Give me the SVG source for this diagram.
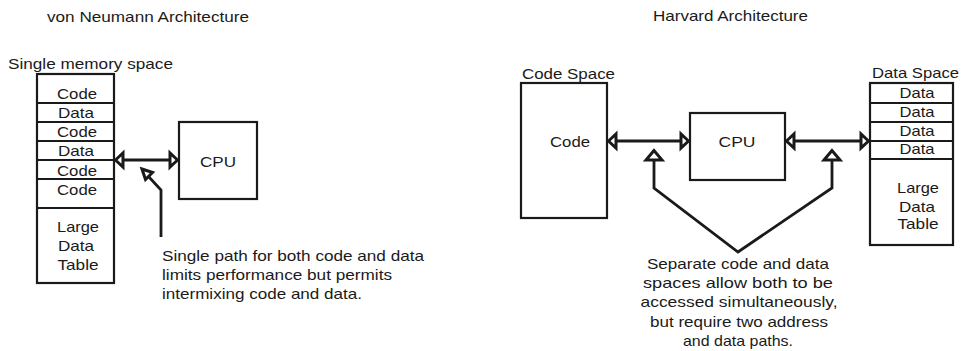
<svg xmlns="http://www.w3.org/2000/svg" width="961" height="351" viewBox="0 0 961 351">
<style>
text{font-family:"Liberation Sans",Arial,sans-serif;font-size:15px;fill:#1a1a1a}
.c{text-anchor:middle}
.box{fill:#fff;stroke:#1a1a1a;stroke-width:2.2}
.sep{stroke:#1a1a1a;stroke-width:2.2}
.ln{fill:none;stroke:#1a1a1a;stroke-width:2.8;stroke-linejoin:miter}
.hd{fill:#fff;stroke:#1a1a1a;stroke-width:3;stroke-linejoin:miter}
</style>
<rect width="961" height="351" fill="#fff"/>
<text x="47" y="22" textLength="202" lengthAdjust="spacingAndGlyphs">von Neumann Architecture</text>
<text x="653" y="21" textLength="155" lengthAdjust="spacingAndGlyphs">Harvard Architecture</text>

<g id="memory">
<text x="8" y="69" textLength="165" lengthAdjust="spacingAndGlyphs">Single memory space</text>
<rect class="box" x="37" y="74" width="77" height="209"/>
<line class="sep" x1="37" y1="103" x2="114" y2="103"/>
<line class="sep" x1="37" y1="122" x2="114" y2="122"/>
<line class="sep" x1="37" y1="141" x2="114" y2="141"/>
<line class="sep" x1="37" y1="160" x2="114" y2="160"/>
<line class="sep" x1="37" y1="179" x2="114" y2="179"/>
<line class="sep" x1="37" y1="208" x2="114" y2="208"/>
<text class="c" x="77" y="99" textLength="40" lengthAdjust="spacingAndGlyphs">Code</text>
<text class="c" x="76" y="118" textLength="36" lengthAdjust="spacingAndGlyphs">Data</text>
<text class="c" x="77" y="137" textLength="40" lengthAdjust="spacingAndGlyphs">Code</text>
<text class="c" x="76" y="156" textLength="36" lengthAdjust="spacingAndGlyphs">Data</text>
<text class="c" x="77" y="176" textLength="40" lengthAdjust="spacingAndGlyphs">Code</text>
<text class="c" x="77" y="195" textLength="40" lengthAdjust="spacingAndGlyphs">Code</text>
<text class="c" x="78" y="232" textLength="42" lengthAdjust="spacingAndGlyphs">Large</text>
<text class="c" x="76" y="251" textLength="36" lengthAdjust="spacingAndGlyphs">Data</text>
<text class="c" x="78" y="270" textLength="41" lengthAdjust="spacingAndGlyphs">Table</text>
</g>

<g id="cpu1">
<rect class="box" x="179" y="122" width="78" height="77"/>
<text class="c" x="218" y="167" textLength="36" lengthAdjust="spacingAndGlyphs">CPU</text>
</g>

<g id="note1">
<text x="162" y="261" textLength="262" lengthAdjust="spacingAndGlyphs">Single path for both code and data</text>
<text x="162" y="280" textLength="230" lengthAdjust="spacingAndGlyphs">limits performance but permits</text>
<text x="162" y="299" textLength="200" lengthAdjust="spacingAndGlyphs">intermixing code and data.</text>
</g>

<g id="codespace">
<text x="522" y="79" textLength="93" lengthAdjust="spacingAndGlyphs">Code Space</text>
<rect class="box" x="521" y="83" width="86" height="135"/>
<text class="c" x="570" y="147" textLength="40" lengthAdjust="spacingAndGlyphs">Code</text>
</g>

<g id="cpu2">
<rect class="box" x="690" y="113" width="95" height="67"/>
<text class="c" x="737" y="147" textLength="37" lengthAdjust="spacingAndGlyphs">CPU</text>
</g>

<g id="dataspace">
<text x="872" y="78" textLength="87" lengthAdjust="spacingAndGlyphs">Data Space</text>
<rect class="box" x="870" y="83" width="83" height="162"/>
<line class="sep" x1="870" y1="103" x2="953" y2="103"/>
<line class="sep" x1="870" y1="122" x2="953" y2="122"/>
<line class="sep" x1="870" y1="141" x2="953" y2="141"/>
<line class="sep" x1="870" y1="159" x2="953" y2="159"/>
<text class="c" x="917" y="98" textLength="35" lengthAdjust="spacingAndGlyphs">Data</text>
<text class="c" x="917" y="117" textLength="35" lengthAdjust="spacingAndGlyphs">Data</text>
<text class="c" x="917" y="136" textLength="35" lengthAdjust="spacingAndGlyphs">Data</text>
<text class="c" x="917" y="154" textLength="35" lengthAdjust="spacingAndGlyphs">Data</text>
<text class="c" x="918" y="193" textLength="42" lengthAdjust="spacingAndGlyphs">Large</text>
<text class="c" x="917" y="212" textLength="36" lengthAdjust="spacingAndGlyphs">Data</text>
<text class="c" x="918" y="229" textLength="41" lengthAdjust="spacingAndGlyphs">Table</text>
</g>

<g id="note2">
<text class="c" x="738" y="269" textLength="182" lengthAdjust="spacingAndGlyphs">Separate code and data</text>
<text class="c" x="738" y="288" textLength="190" lengthAdjust="spacingAndGlyphs">spaces allow both to be</text>
<text class="c" x="739" y="307" textLength="197" lengthAdjust="spacingAndGlyphs">accessed simultaneously,</text>
<text class="c" x="739" y="327" textLength="178" lengthAdjust="spacingAndGlyphs">but require two address</text>
<text class="c" x="738" y="346" textLength="110" lengthAdjust="spacingAndGlyphs">and data paths.</text>
</g>

<g id="connectors">
<line class="ln" x1="123" y1="160" x2="170" y2="160"/>
<polygon class="hd" points="115.5,160 123,153 123,167"/>
<polygon class="hd" points="177.5,160 170,153 170,167"/>
<polyline class="ln" points="161,237 161,190 149,177"/>
<polygon class="hd" points="142,169 152.5,172.5 145.5,179.5"/>

<line class="ln" x1="616" y1="141" x2="681" y2="141"/>
<polygon class="hd" points="608.5,141 616,134 616,148"/>
<polygon class="hd" points="688.5,141 681,134 681,148"/>
<line class="ln" x1="794" y1="141" x2="861" y2="141"/>
<polygon class="hd" points="786.5,141 794,134 794,148"/>
<polygon class="hd" points="868.5,141 861,134 861,148"/>

<polyline class="ln" points="654,160 654,188 738,252 832,188 832,160"/>
<polygon class="hd" points="654,150.5 646,160 662,160"/>
<polygon class="hd" points="832,150.5 824,160 840,160"/>
</g>
</svg>
